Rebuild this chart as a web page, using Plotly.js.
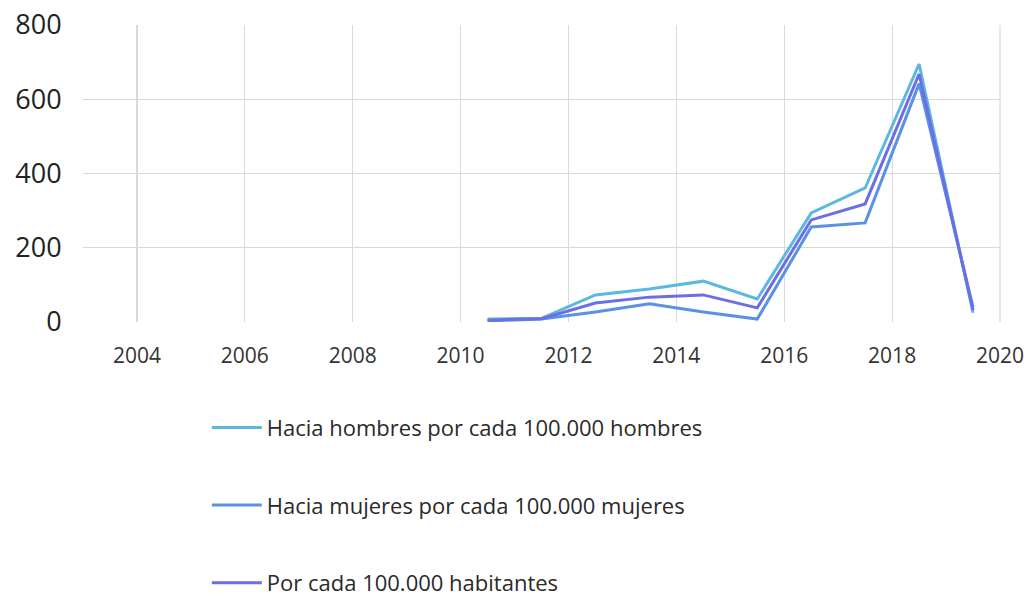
<!DOCTYPE html>
<html>
<head>
<meta charset="utf-8">
<script src="https://cdn.plot.ly/plotly-3.0.1.min.js"></script>
<style>html,body{margin:0;padding:0;background:#fff;}#chart{width:1027px;height:596px;}</style>
</head>
<body>
<div id="chart"></div>
<script>
const years = [2010.5, 2011.5, 2012.5, 2013.5, 2014.5, 2015.5, 2016.5, 2017.5, 2018.5, 2019.5];
const hombres = [8, 10, 73, 89, 110, 62, 294, 361, 695, 25];
const mujeres = [3, 8, 27, 49, 27, 8, 256, 267, 642, 40];
const habitantes = [5, 9, 51, 67, 73, 38, 275, 318, 668, 32];
const seriesNames = [
  "Hacia hombres por cada 100.000 hombres",
  "Hacia mujeres por cada 100.000 mujeres",
  "Por cada 100.000 habitantes"
];
const xTicks = [2004, 2006, 2008, 2010, 2012, 2014, 2016, 2018, 2020];
const yTicks = [0, 200, 400, 600, 800];

const colors = ["#5cb8df", "#5b91e5", "#6a6fe6"];
const seriesData = [hombres, mujeres, habitantes];
const traces = seriesData.map((vals, i) => ({
  x: years, y: vals, type: "scatter", mode: "lines",
  name: seriesNames[i], legendgroup: "g" + i,
  line: {color: colors[i], width: 3}
}));

const layout = {
  width: 1027, height: 596,
  margin: {l: 83, r: 27, t: 25, b: 274, autoexpand: false},
  paper_bgcolor: "#fff", plot_bgcolor: "#fff",
  font: {family: "Open Sans, sans-serif", color: "#333"},
  showlegend: true,
  legend: {
    orientation: "v", x: 0.135, xanchor: "left", y: -0.285, yanchor: "top",
    font: {size: 22, color: "#2a2a2a"}, tracegroupgap: 46, itemwidth: 50
  },
  xaxis: {
    range: [2003, 2020], tickvals: xTicks, ticktext: xTicks.map(String),
    showgrid: true, gridcolor: "#d9d9d9", gridwidth: 1.2,
    zeroline: false, showline: false,
    tickfont: {size: 21, color: "#333"}, ticks: "outside", ticklen: 15, tickcolor: "rgba(0,0,0,0)"
  },
  yaxis: {
    range: [0, 800], tickvals: yTicks, ticktext: yTicks.map(String),
    showgrid: true, gridcolor: "#d9d9d9", gridwidth: 1.2,
    zeroline: false, showline: false,
    tickfont: {size: 27, color: "#222"}, ticks: "outside", ticklen: 15, tickcolor: "rgba(0,0,0,0)"
  },
  shapes: [
    {type: "line", xref: "paper", yref: "paper", x0: 1, x1: 1, y0: 0, y1: 1, line: {color: "#d9d9d9", width: 1.2}}
  ]
};
Plotly.newPlot("chart", traces, layout, {displayModeBar: false, staticPlot: true});
</script>
</body>
</html>
